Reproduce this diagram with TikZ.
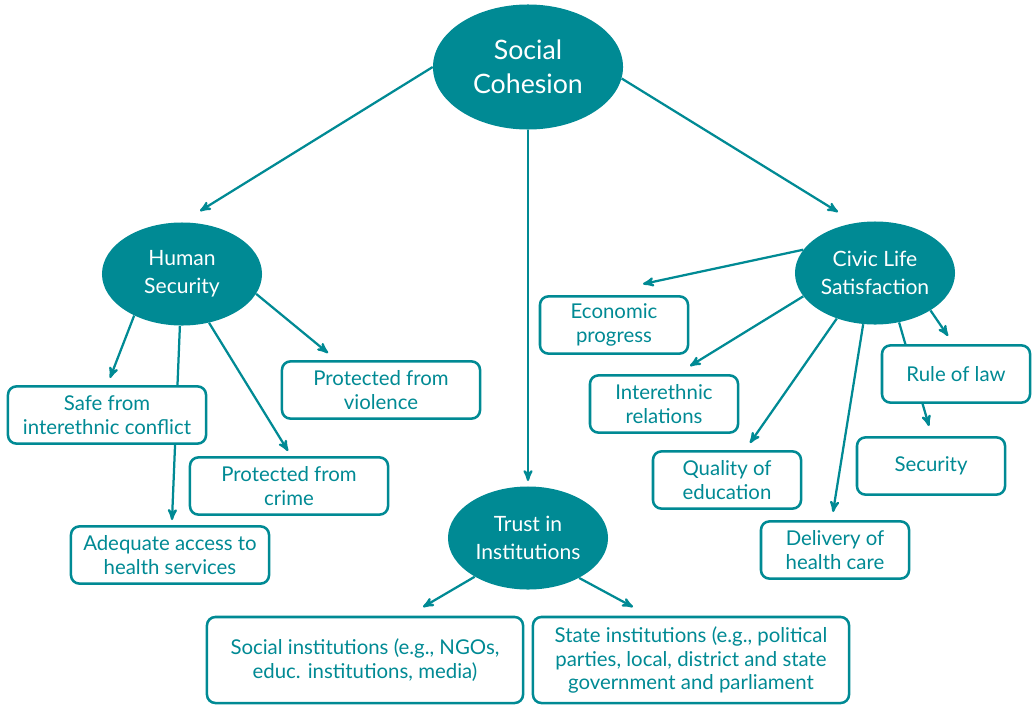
\documentclass[tikz,border=0pt]{standalone}
\usepackage{fontspec}
\setmainfont{Lato}
\usetikzlibrary{arrows,shapes.geometric,backgrounds}
\definecolor{cohteal}{RGB}{0,138,148}

\begin{document}
\begin{tikzpicture}[x=0.025cm,y=-0.025cm,>=stealth',
	bubble/.style={ellipse, fill=cohteal, text=white, inner sep=-10pt, align=center, minimum width=4cm, minimum height=2.575cm, font=\fontsize{15}{20}\selectfont},
	bigbubble/.style={bubble, minimum width=4.75cm, minimum height=3.125cm, font=\fontsize{19}{24}\selectfont},
	item/.style={draw=cohteal, line width=1.8pt, fill=white, text=cohteal, rounded corners=6pt, align=center, minimum width=3.7cm, minimum height=1.43cm, inner sep=2pt, font=\fontsize{14.5}{17}\selectfont},
	wideitem/.style={item, minimum width=7.9cm, minimum height=2.15cm},
	link/.style={->, draw=cohteal, line width=1.6pt}]
	\useasboundingbox (0,0) rectangle (1032,705);

	\node[bigbubble] (sc) at (528,67) {Social\\Cohesion};
	\node[bubble] (hs) at (182,274) {Human\\Security};
	\node[bubble] (civ) at (875,273) {Civic Life\\Satisfaction};
	\node[bubble] (trust) at (528,538) {Trust in\\Institutions};

	\node[item, minimum width=4.95cm] (safe) at (107,415) {Safe from\\interethnic conflict};
	\node[item, minimum width=4.95cm] (violence) at (381,390) {Protected from\\violence};
	\node[item, minimum width=4.95cm] (crime) at (289,486) {Protected from\\crime};
	\node[item, minimum width=4.95cm] (access) at (170,555) {Adequate access to\\health services};

	\node[item] (econ) at (614,325) {Economic\\progress};
	\node[item] (inter) at (664,404) {Interethnic\\relations};
	\node[item] (edu) at (727,480) {Quality of\\education};
	\node[item] (care) at (835,550) {Delivery of\\health care};
	\node[item] (law) at (956,374) {Rule of law};
	\node[item] (secur) at (931,466) {Security};

	\node[wideitem] (socinst) at (365,660) {Social institutions (e.g., NGOs,\\educ. institutions, media)};
	\node[wideitem] (stateinst) at (691,660) {State institutions (e.g., political\\parties, local, district and state\\government and parliament};

	\coordinate (hsend) at (200,211);
	\coordinate (civend) at (838,212);
	\coordinate (trustend) at (528,481);
	\coordinate (safeend) at (110,378);
	\coordinate (accessend) at (172,520);
	\coordinate (crimeend) at (288,451);
	\coordinate (violenceend) at (328,353);
	\coordinate (econend) at (643,284);
	\coordinate (interend) at (690,366);
	\coordinate (eduend) at (750,443);
	\coordinate (careend) at (833,512);
	\coordinate (lawend) at (948,336);
	\coordinate (securend) at (929,426);
	\coordinate (socinstend) at (423,607);
	\coordinate (stateinstend) at (633,607);

	\begin{scope}[on background layer]
	\draw[link] (sc.west) -- (hsend);
	\draw[link] (sc.-7) -- (civend);
	\draw[link] (sc) -- (trustend);

	\draw[link] (hs.221) -- (safeend);
	\draw[link] (hs) -- (accessend);
	\draw[link] (hs.-61) -- (crimeend);
	\draw[link] (hs.-15) -- (violenceend);

	\draw[link] (civ.162) -- (econend);
	\draw[link] (civ.198) -- (interend);
	\draw[link] (civ.230) -- (eduend);
	\draw[link] (civ.257) -- (careend);
	\draw[link] (civ.-34) -- (lawend);
	\draw[link] (civ.-64) -- (securend);

	\draw[link] (trust.216) -- (socinstend);
	\draw[link] (trust.-38) -- (stateinstend);
	\end{scope}
\end{tikzpicture}
\end{document}
